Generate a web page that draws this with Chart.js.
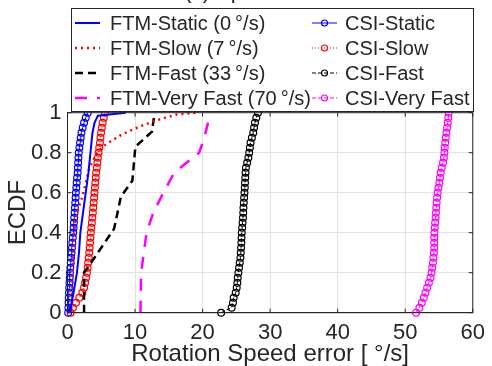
<!DOCTYPE html>
<html>
<head>
<meta charset="utf-8">
<script src="https://cdn.jsdelivr.net/npm/chart.js@4.4.1/dist/chart.umd.min.js"></script>
<style>
  html, body { margin: 0; padding: 0; background: #fff; }
  #wrap { width: 492px; height: 366px; position: relative; }
</style>
</head>
<body>
<div id="wrap"><canvas id="myChart" width="492" height="366"></canvas></div>
<script>
// tick labels
var xTicks = [0, 10, 20, 30, 40, 50, 60];
var yTickLabels = ['0', '0.2', '0.4', '0.6', '0.8', '1'];

// FTM curves (few samples, drawn as lines)
var ftmStaticX = [0.3, 0.9, 1.4, 1.7, 1.9, 2.3, 2.7, 3.1, 3.4, 3.7, 4.0, 4.5, 8.6];
var ftmStaticY = [0, 0.1, 0.2, 0.3, 0.4, 0.5, 0.6, 0.7, 0.8, 0.9, 0.95, 0.985, 1.0];
var ftmSlowX = [0.5, 0.7, 0.85, 1.1, 1.6, 2.2, 3.2, 4.2, 5.2, 6.3, 8.0, 9.6, 11.0, 13.0, 16.0, 19.0];
var ftmSlowY = [0, 0.1, 0.3, 0.45, 0.52, 0.58, 0.72, 0.79, 0.83, 0.855, 0.89, 0.915, 0.935, 0.96, 0.99, 1.0];
var ftmFastX = [2.45, 2.45, 3.3, 6.9, 7.9, 9.6, 10.05, 12.5, 12.9];
var ftmFastY = [0, 0.2, 0.24, 0.42, 0.58, 0.66, 0.83, 0.905, 1.0];
var ftmVeryFastX = [10.8, 10.9, 11.7, 12.7, 14.2, 15.8, 19.5, 20.2, 21.2];
var ftmVeryFastY = [0, 0.2, 0.4, 0.5, 0.6, 0.7, 0.8, 0.87, 1.0];

// CSI curves, ECDF levels shared by all four
var csiLevels = [0, 0.025, 0.05, 0.075, 0.1, 0.125, 0.15, 0.175, 0.2, 0.225,
  0.25, 0.275, 0.3, 0.325, 0.35, 0.375, 0.4, 0.425, 0.45, 0.475,
  0.5, 0.525, 0.55, 0.575, 0.6, 0.625, 0.65, 0.675, 0.7, 0.725,
  0.75, 0.775, 0.8, 0.825, 0.85, 0.875, 0.9, 0.925, 0.95, 0.975, 1.0];
var csiStaticX = [0.1, 0.13, 0.16, 0.19, 0.22, 0.25, 0.29, 0.33, 0.36, 0.42,
  0.48, 0.54, 0.6, 0.66, 0.72, 0.78, 0.85, 0.9, 0.95, 1.0,
  1.05, 1.1, 1.15, 1.2, 1.24, 1.3, 1.36, 1.42, 1.5, 1.54,
  1.58, 1.62, 1.67, 1.76, 1.86, 1.96, 2.06, 2.25, 2.45, 2.7, 3.0];
var csiSlowX = [0.45, 0.8, 1.25, 1.75, 2.2, 2.45, 2.6, 2.75, 2.88, 2.98,
  3.06, 3.14, 3.22, 3.28, 3.34, 3.4, 3.46, 3.53, 3.6, 3.68,
  3.75, 3.81, 3.87, 3.94, 4.0, 4.05, 4.12, 4.18, 4.24, 4.33,
  4.42, 4.5, 4.6, 4.7, 4.8, 4.88, 4.97, 5.08, 5.2, 5.38, 5.55];
var csiFastX = [22.75, 24.3, 24.5, 24.6, 24.9, 25.05, 25.15, 25.2, 25.3, 25.4,
  25.5, 25.6, 25.65, 25.7, 25.74, 25.77, 25.8, 25.86, 25.92, 25.98,
  26.02, 26.05, 26.1, 26.15, 26.2, 26.25, 26.28, 26.32, 26.36, 26.42,
  26.6, 26.78, 26.9, 27.0, 27.1, 27.3, 27.5, 27.62, 27.75, 27.95, 28.2];
var csiVeryFastX = [51.6, 52.1, 52.45, 52.75, 53.0, 53.25, 53.5, 53.75, 53.9, 54.0,
  54.1, 54.18, 54.25, 54.3, 54.3, 54.3, 54.32, 54.38, 54.43, 54.5,
  54.55, 54.6, 54.65, 54.72, 54.8, 54.92, 55.05, 55.15, 55.25, 55.4,
  55.6, 55.72, 55.8, 55.85, 55.92, 56.0, 56.1, 56.2, 56.3, 56.38, 56.45];

var legendNames = ['FTM-Static (0\u2009°/s)', 'FTM-Slow (7\u2009°/s)', 'FTM-Fast (33\u2009°/s)', 'FTM-Very Fast (70\u2009°/s)',
  'CSI-Static', 'CSI-Slow', 'CSI-Fast', 'CSI-Very Fast'];

function pts(xs, ys) {
  var out = [];
  for (var i = 0; i < xs.length; i++) out.push({x: xs[i], y: ys[i]});
  return out;
}

var txt = '#262626';
var fnt = '"Liberation Sans", Arial, sans-serif';

function ftm(name, xs, ys, color, dash, w) {
  return { label: name, data: pts(xs, ys), borderColor: color, borderWidth: w, borderDash: dash,
    pointRadius: 0, tension: 0, fill: false, clip: 4 };
}
function csi(name, xs, color, dash) {
  return { label: name, data: pts(xs, csiLevels), borderColor: color, borderWidth: 1, borderDash: dash,
    pointRadius: 3.4, pointBorderWidth: 1.2, pointBorderColor: color, pointBackgroundColor: 'rgba(0,0,0,0)',
    tension: 0, fill: false, clip: false, isCsi: true };
}

var boxPlugin = {
  id: 'matlabBox',
  afterDraw: function(chart) {
    var c = chart.ctx, a = chart.chartArea;
    var xs = chart.scales.x, ys = chart.scales.y;
    c.save();
    c.strokeStyle = txt;
    c.lineWidth = 1;
    c.setLineDash([]);
    c.strokeRect(a.left, a.top, a.right - a.left, a.bottom - a.top);
    // inward tick marks
    c.beginPath();
    xTicks.forEach(function(v) {
      var p = xs.getPixelForValue(v);
      c.moveTo(p, a.bottom); c.lineTo(p, a.bottom - 4);
      c.moveTo(p, a.top); c.lineTo(p, a.top + 4);
    });
    yTickLabels.forEach(function(l) {
      var p = ys.getPixelForValue(parseFloat(l));
      c.moveTo(a.left, p); c.lineTo(a.left + 4, p);
      c.moveTo(a.right, p); c.lineTo(a.right - 4, p);
    });
    c.stroke();

    // partially visible title at the very top
    c.fillStyle = txt;
    c.font = '22px ' + fnt;
    c.textAlign = 'center';
    c.textBaseline = 'alphabetic';
    c.fillText('(c) Speed', 232, -2);

    // legend box
    var lx = 71, ly = 8, lw = 402, lh = 103;
    c.fillStyle = '#ffffff';
    c.fillRect(lx, ly, lw, lh);
    c.strokeStyle = txt;
    c.strokeRect(lx + 0.5, ly + 0.5, lw, lh);
    c.font = '20px ' + fnt;
    c.textAlign = 'left';
    c.textBaseline = 'middle';
    var rows = [23, 48, 73, 98];
    chart.data.datasets.forEach(function(ds, i) {
      var col = i < 4 ? 0 : 1;
      var y = rows[i % 4];
      var x0 = col === 0 ? 75 : 312, x1 = col === 0 ? 100 : 337, tx = col === 0 ? 110 : 345;
      c.strokeStyle = ds.borderColor;
      c.lineWidth = ds.borderWidth;
      c.setLineDash(ds.borderDash || []);
      c.beginPath(); c.moveTo(x0, y); c.lineTo(x1, y); c.stroke();
      if (ds.isCsi) {
        c.setLineDash([]);
        c.lineWidth = 1.2;
        c.beginPath(); c.arc((x0 + x1) / 2, y, 3, 0, Math.PI * 2); c.stroke();
      }
      c.fillStyle = txt;
      c.fillText(legendNames[i], tx, y + 1);
    });
    c.restore();
  }
};

var ctx = document.getElementById('myChart');
var myChart = new Chart(ctx, {
  type: 'line',
  data: {
    datasets: [
      ftm(legendNames[0], ftmStaticX, ftmStaticY, '#0000ff', [], 2),
      ftm(legendNames[1], ftmSlowX, ftmSlowY, '#ff0000', [2, 4], 2.5),
      ftm(legendNames[2], ftmFastX, ftmFastY, '#000000', [8, 5], 2.5),
      ftm(legendNames[3], ftmVeryFastX, ftmVeryFastY, '#ff00ff', [12, 10], 2.5),
      csi(legendNames[4], csiStaticX, '#0000ff', []),
      csi(legendNames[5], csiSlowX, '#ff0000', [1, 2]),
      csi(legendNames[6], csiFastX, '#000000', [4, 2]),
      csi(legendNames[7], csiVeryFastX, '#ff00ff', [4, 2])
    ]
  },
  options: {
    responsive: false,
    animation: false,
    layout: { padding: { top: 112.7, right: 13, left: 0, bottom: 0 } },
    plugins: { legend: { display: false }, tooltip: { enabled: false } },
    scales: {
      x: {
        type: 'linear', min: 0, max: 60,
        afterBuildTicks: function(s) { s.ticks = xTicks.map(function(v) { return {value: v}; }); },
        afterFit: function(s) { s.height = 53.3; },
        ticks: { color: txt, font: { family: fnt, size: 22 }, padding: 7, maxRotation: 0 },
        grid: { color: '#e3e3e3', drawTicks: false },
        border: { color: txt },
        title: { display: true, text: 'Rotation Speed error [ °/s]', color: txt,
          font: { family: fnt, size: 24, lineHeight: 1 }, padding: { top: 0, bottom: 0 } }
      },
      y: {
        type: 'linear', min: 0, max: 1,
        afterBuildTicks: function(s) { s.ticks = yTickLabels.map(function(l) { return {value: parseFloat(l)}; }); },
        afterFit: function(s) { s.width = 67.5; },
        ticks: { color: txt, font: { family: fnt, size: 22 }, padding: 6,
          callback: function(v, i) { return yTickLabels[i]; } },
        grid: { color: '#e3e3e3', drawTicks: false },
        border: { color: txt },
        title: { display: true, text: 'ECDF', color: txt,
          font: { family: fnt, size: 24 }, padding: { top: 4, bottom: 0 } }
      }
    }
  },
  plugins: [boxPlugin]
});
</script>
</body>
</html>
